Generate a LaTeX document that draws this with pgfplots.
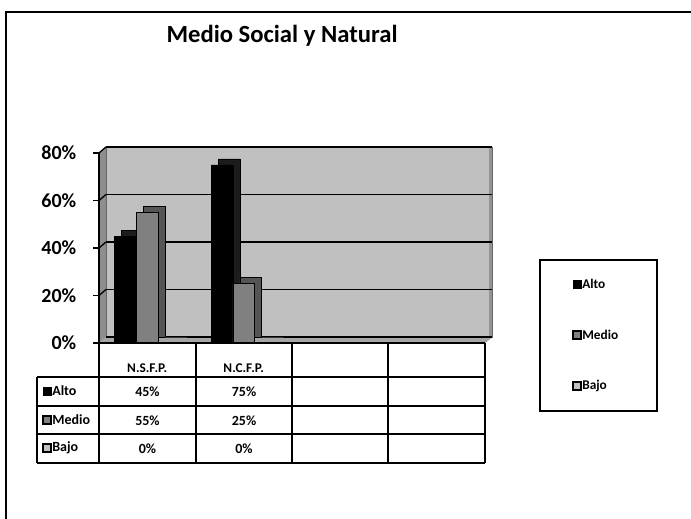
\documentclass[border=0pt]{standalone}
\usepackage{fontspec}
\setmainfont{Carlito}
\usepackage{pgfplots}
\pgfplotsset{compat=1.18}

% pixel coordinates of the reference (y downwards)
\newcommand\Q[2]{({(#1)*0.75pt},{-(#2)*0.75pt})}

\definecolor{wall}{HTML}{C0C0C0}
\definecolor{sidewall}{HTML}{8E8E8E}
\definecolor{floorc}{HTML}{A6A6A6}
\definecolor{alto}{HTML}{000000}
\definecolor{altod}{HTML}{1C1C1C}
\definecolor{medio}{HTML}{808080}
\definecolor{mediod}{HTML}{555555}
\definecolor{bajo}{HTML}{C0C0C0}
\definecolor{bajod}{HTML}{8C8C8C}

\begin{document}
\begin{tikzpicture}[font=\bfseries]
\path[use as bounding box] \Q{0}{0} rectangle \Q{691}{518};

% outer frame (only left and top edges are in the picture)
\draw[line width=1.4pt] \Q{6}{530} -- \Q{6}{12} -- \Q{700}{12};

% title
\node at \Q{282}{36} {\fontsize{18.5}{22}\selectfont Medio Social y Natural};

% 3-D walls and floor
\filldraw[fill=sidewall, draw=gray] \Q{99}{153} -- \Q{106}{147} -- \Q{106}{337} -- \Q{99}{343} -- cycle;
\filldraw[fill=wall, draw=gray!80!black] \Q{106}{147} rectangle \Q{492}{337};
\fill[gray!85] \Q{489}{147} rectangle \Q{492}{337};
\filldraw[fill=floorc, draw=gray!70] \Q{99}{343} -- \Q{485}{343} -- \Q{492}{337} -- \Q{106}{337} -- cycle;
\foreach \yy in {153,200.5,248,295.5} {
  \draw[black, line width=1pt] \Q{99}{\yy} -- \Q{106}{\yy-6};
}

\begin{axis}[
  at={(74.25pt,-257.25pt)}, anchor=south west,
  scale only axis,
  width=289.5pt, height=142.5pt,
  xmin=-0.5, xmax=3.5, ymin=0, ymax=80,
  axis line style={draw=none},
  clip=false,
  ybar=0pt, bar width=0.225,
  ytick={0,20,40,60,80},
  yticklabels={0\%,20\%,40\%,60\%,80\%},
  ytick pos=left, tick align=outside,
  major tick length=4.5pt,
  ytick style={black, line width=1pt},
  yticklabel style={font=\fontsize{15}{18}\bfseries, xshift=-9pt},
  xtick={0,1,2,3},
  xticklabels={N.S.F.P., N.C.F.P., {}, {}},
  xtick style={draw=none},
  xticklabel style={font=\fontsize{10}{12}\bfseries, anchor=center, yshift=-14.5pt},
  ymajorgrids,
  major grid style={black, line width=1.2pt, xshift=5.25pt, yshift=4.5pt},
]
% depth faces first, then front faces
\addplot[fill=altod, draw=black, line width=0.4pt, bar shift=-0.225, xshift=5.25pt, yshift=4.5pt]
  coordinates {(0,45) (1,75)};
\addplot[fill=alto, draw=black, line width=0.4pt, bar shift=-0.225]
  coordinates {(0,45) (1,75)};
\addplot[fill=mediod, draw=black, line width=0.4pt, bar shift=0, xshift=5.25pt, yshift=4.5pt]
  coordinates {(0,55) (1,25)};
\addplot[fill=medio, draw=black, line width=0.4pt, bar shift=0]
  coordinates {(0,55) (1,25)};
\addplot[fill=bajod, draw=gray!60!black, line width=0.4pt, bar shift=0.225, xshift=5.25pt, yshift=4.5pt]
  coordinates {(0,0) (1,0)};
\addplot[fill=bajo, draw=gray!60!black, line width=0.4pt, bar shift=0.225]
  coordinates {(0,0) (1,0)};
\end{axis}

% left axis line
\draw[black, line width=1.2pt] \Q{99}{153} -- \Q{99}{343};

% data table
\begin{scope}[line width=1.3pt]
\draw \Q{93}{343} -- \Q{485}{343};
\foreach \yy in {377,406,434,463} { \draw \Q{37}{\yy} -- \Q{485}{\yy}; }
\draw \Q{37}{377} -- \Q{37}{463};
\foreach \xx in {99,196,292,388,485} { \draw \Q{\xx}{343} -- \Q{\xx}{463}; }
\end{scope}
\begin{scope}[font=\fontsize{10.5}{12}\bfseries]
\filldraw[fill=alto, draw=black, line width=0.6pt] \Q{43}{387} rectangle \Q{51}{395};
\node[anchor=west, inner sep=0pt] at \Q{52}{391} {Alto};
\filldraw[fill=medio, draw=black, line width=0.9pt] \Q{43}{416} rectangle \Q{51}{424};
\node[anchor=west, inner sep=0pt] at \Q{52}{420} {Medio};
\filldraw[fill=bajo, draw=black, line width=0.9pt] \Q{43}{444} rectangle \Q{51}{452};
\node[anchor=west, inner sep=0pt] at \Q{52}{448} {Bajo};
\node at \Q{147.5}{392} {45\%};
\node at \Q{244}{392} {75\%};
\node at \Q{147.5}{421} {55\%};
\node at \Q{244}{421} {25\%};
\node at \Q{147.5}{449} {0\%};
\node at \Q{244}{449} {0\%};
\end{scope}

% legend
\draw[line width=1.3pt] \Q{540}{260} rectangle \Q{657}{411};
\begin{scope}[font=\fontsize{10}{12}\bfseries]
\filldraw[fill=alto, draw=black, line width=0.6pt] \Q{573}{280} rectangle \Q{581}{288};
\node[anchor=west, inner sep=0pt] at \Q{582}{284} {Alto};
\filldraw[fill=medio, draw=black, line width=0.9pt] \Q{573}{331} rectangle \Q{581}{339};
\node[anchor=west, inner sep=0pt] at \Q{582}{335} {Medio};
\filldraw[fill=bajo, draw=black, line width=0.9pt] \Q{573}{382} rectangle \Q{581}{390};
\node[anchor=west, inner sep=0pt] at \Q{582}{386} {Bajo};
\end{scope}
\end{tikzpicture}
\end{document}
